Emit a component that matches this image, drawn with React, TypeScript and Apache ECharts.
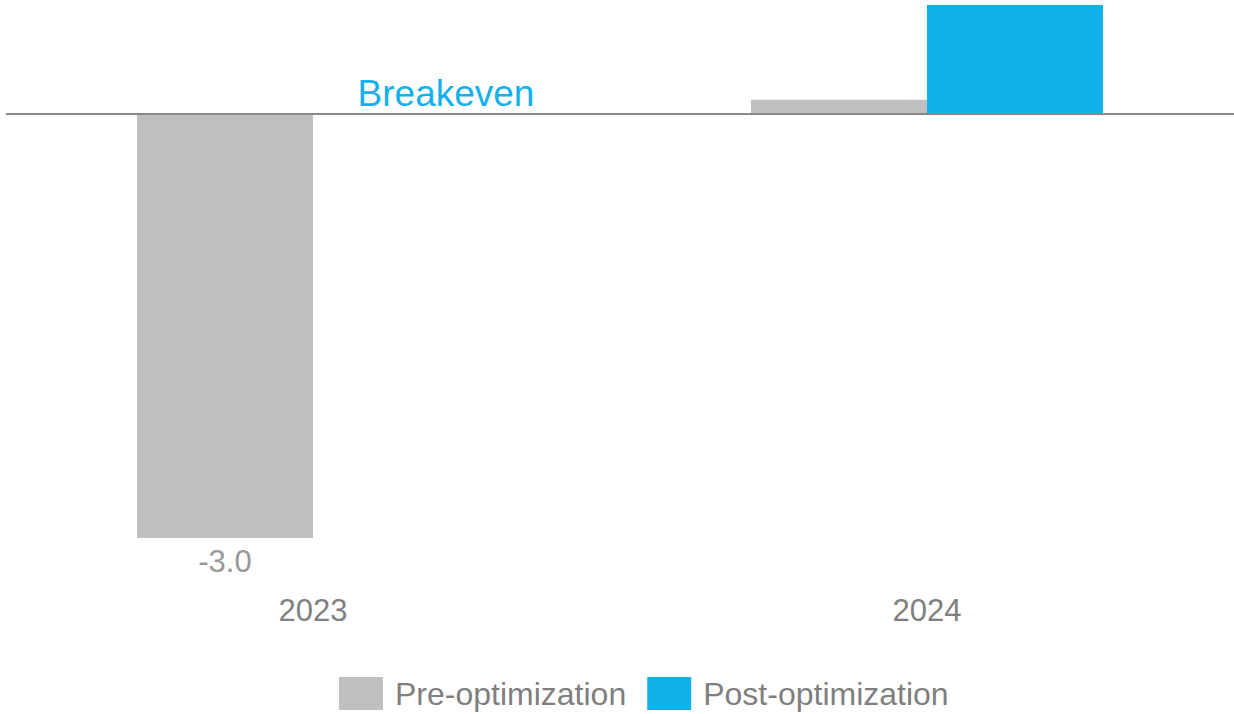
import { useEffect, useRef } from 'react';
import * as echarts from 'echarts';

// Profit by year, before and after optimization
const years = ['2023', '2024'];
const preOptimization = [-3.0, 0.1];
const postOptimization = [0, 0.77];
const seriesNames = ['Pre-optimization', 'Post-optimization'];
const breakevenText = 'Breakeven';

const GRAY = '#BFBFBF';
const BLUE = '#12B1EC';
const FONT = '"Liberation Sans", Arial, sans-serif';

export default function App() {
  const ref = useRef<HTMLDivElement>(null);

  useEffect(() => {
    const chart = echarts.init(ref.current!, null, { renderer: 'svg' });
    chart.setOption({
      animation: false,
      textStyle: { fontFamily: FONT },
      grid: { left: 6, right: 0, top: 5, bottom: 176 },
      legend: {
        left: 339,
        top: 677,
        padding: 0,
        itemWidth: 44,
        itemHeight: 33,
        itemGap: 21,
        icon: 'rect',
        textStyle: {
          fontFamily: FONT,
          fontSize: 32,
          color: '#7F7F7F',
          padding: [0, 0, 0, 7],
        },
        data: seriesNames,
      },
      xAxis: {
        type: 'category',
        data: years,
        axisLine: { show: false },
        axisTick: { show: false },
        axisLabel: { color: '#808080', fontSize: 31, margin: 57, fontFamily: FONT },
      },
      yAxis: {
        type: 'value',
        min: -3,
        max: 0.77,
        show: false,
        splitLine: { show: false },
      },
      series: [
        {
          name: seriesNames[0],
          type: 'bar',
          barWidth: 176,
          barGap: '0%',
          itemStyle: { color: GRAY },
          data: preOptimization.map((v) => ({
            value: v,
            label: {
              show: v < 0,
              position: 'bottom',
              distance: 8,
              formatter: (p: any) => Number(p.value).toFixed(1),
              color: '#999999',
              fontSize: 31,
              fontFamily: FONT,
            },
          })),
          markLine: {
            silent: true,
            symbol: 'none',
            label: { show: false },
            lineStyle: { color: '#898989', width: 2, type: 'solid' },
            data: [{ yAxis: 0 }],
          },
        },
        {
          name: seriesNames[1],
          type: 'bar',
          barWidth: 176,
          barGap: '0%',
          itemStyle: { color: BLUE },
          data: postOptimization.map((v) => ({
            value: v,
            label: {
              show: v === 0,
              position: 'top',
              distance: 2,
              offset: [45, 0],
              formatter: breakevenText,
              color: BLUE,
              fontSize: 37,
              fontFamily: FONT,
            },
          })),
        },
      ],
    });
    return () => chart.dispose();
  }, []);

  return (
    <div
      ref={ref}
      style={{ position: 'absolute', left: 0, top: 0, width: 1234, height: 714 }}
    />
  );
}
